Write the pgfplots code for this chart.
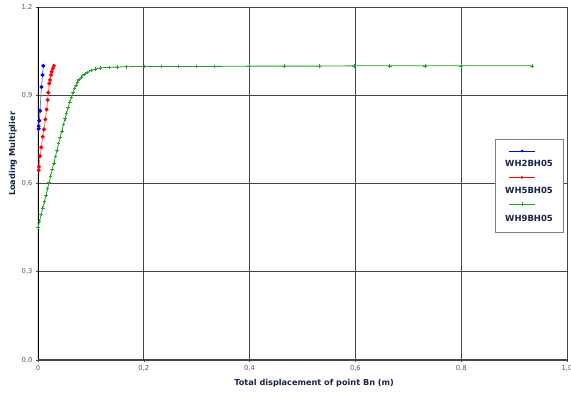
\documentclass[border=0pt]{standalone}
\usepackage{pgfplots}
\pgfplotsset{compat=1.18}
\usepackage{fontspec}
\setmainfont{DejaVu Sans}
\definecolor{gridc}{RGB}{70,70,70}
\definecolor{labc}{RGB}{25,35,70}
\definecolor{tickc}{RGB}{90,90,90}
\definecolor{myblue}{RGB}{0,0,255}
\definecolor{lblue}{RGB}{110,110,255}
\definecolor{myred}{RGB}{255,0,0}
\definecolor{lred}{RGB}{255,110,110}
\definecolor{mygreen}{RGB}{40,160,40}
\begin{document}
\begin{tikzpicture}
\useasboundingbox (-38bp,-36bp) rectangle (533bp,360bp);
\begin{axis}[at={(0,0)}, anchor=south west, scale only axis,
  width=529bp, height=353bp,
  xmin=0, xmax=1, ymin=0, ymax=1.2,
  xtick={0,0.2,0.4,0.6,0.8,1}, xticklabels={0,{0,2},{0,4},{0,6},{0,8},{1,0}},
  ytick={0,0.3,0.6,0.9,1.2}, yticklabels={{0,0},{0,3},{0,6},{0,9},{1,2}},
  xtick pos=bottom, ytick pos=left,
  grid=major, major grid style={gridc, line width=0.8bp},
  axis line style={gridc, line width=0.8bp},
  tick align=outside, major tick length=2bp, tick style={gridc, line width=0.6bp},
  ticklabel style={font=\fontsize{6.8}{7}\selectfont, text=tickc},
  /pgf/number format/assume math mode=true,
  xlabel={Total displacement of point Bn (m)},
  ylabel={Loading Multiplier},
  every axis x label/.style={at={(axis description cs:0.522,0)}, anchor=center, yshift=-23bp,
    font=\fontsize{8.2}{9}\selectfont\bfseries, text=labc},
  every axis y label/.style={at={(axis description cs:0,0.584)}, anchor=center, xshift=-25bp, rotate=90,
    font=\fontsize{8.2}{9}\selectfont\bfseries, text=labc},
]
\draw[black, line width=1.6bp] (rel axis cs:0,0) -- (rel axis cs:0,1);
\draw[gridc, line width=1.6bp] (rel axis cs:0,0) -- (rel axis cs:1,0);
\addplot[color=mygreen, line width=0.8bp, mark=+, mark size=1.8bp, mark options={mygreen, line width=0.6bp}] coordinates {
(0,0.450) (0.003,0.472) (0.006,0.494) (0.009,0.516) (0.012,0.538) (0.015,0.560)
(0.018,0.582) (0.021,0.604) (0.024,0.626) (0.027,0.648) (0.030,0.670) (0.033,0.692)
(0.036,0.714) (0.039,0.736) (0.042,0.758) (0.045,0.779) (0.048,0.800) (0.051,0.820)
(0.054,0.840) (0.057,0.859) (0.060,0.877) (0.063,0.894) (0.066,0.909) (0.069,0.923)
(0.072,0.935) (0.075,0.945) (0.078,0.953) (0.082,0.962) (0.087,0.970) (0.093,0.977)
(0.100,0.984) (0.108,0.989) (0.117,0.993) (0.134,0.995) (0.149,0.996) (0.166,0.997)
(0.200,0.998) (0.233,0.998) (0.266,0.998) (0.299,0.998) (0.333,0.998) (0.399,0.999)
(0.465,0.999) (0.531,0.999) (0.597,1.000) (0.665,1.000) (0.732,1.000) (0.800,1.000)
(0.934,1.000)
};
\addplot[color=lred, line width=0.8bp, mark=*, mark size=1.6bp, mark options={draw=myred, fill=myred}] coordinates {
(0.0015,0.645) (0.0019,0.657) (0.0038,0.693) (0.0062,0.723) (0.0089,0.759)
(0.0113,0.784) (0.0138,0.818) (0.0164,0.852) (0.0183,0.884) (0.0195,0.909)
(0.0214,0.940) (0.0227,0.952) (0.0246,0.969) (0.0259,0.980) (0.0278,0.991)
(0.0300,1.000)
};
\addplot[color=lblue, line width=0.8bp, mark=*, mark size=1.6bp, mark options={draw=myblue, fill=myblue}] coordinates {
(0.0012,0.786) (0.0013,0.795) (0.0025,0.814) (0.0038,0.847) (0.0065,0.928)
(0.0085,0.969) (0.0100,1.000)
};
\end{axis}
% legend
\draw[draw=gray, fill=white, line width=0.7bp] (457bp,128bp) rectangle (525bp,221bp);
\draw[myblue, line width=0.7bp] (471bp,209bp) -- (497bp,209bp);
\fill[myblue] (484bp,209bp) circle (1.5bp);
\draw[myred, line width=0.7bp] (471bp,182.7bp) -- (497bp,182.7bp);
\fill[myred] (484bp,182.7bp) circle (1.5bp);
\draw[mygreen, line width=0.7bp] (471bp,156bp) -- (497bp,156bp);
\draw[mygreen, line width=0.6bp] (484bp,154bp) -- (484bp,158bp);
\begin{scope}[every node/.style={anchor=west, inner sep=0pt, font=\fontsize{8.5}{9}\selectfont\bfseries, text=labc}]
\node at (467bp,196.7bp) {WH2BH05};
\node at (467bp,170bp) {WH5BH05};
\node at (467bp,141.7bp) {WH9BH05};
\end{scope}
\end{tikzpicture}
\end{document}
